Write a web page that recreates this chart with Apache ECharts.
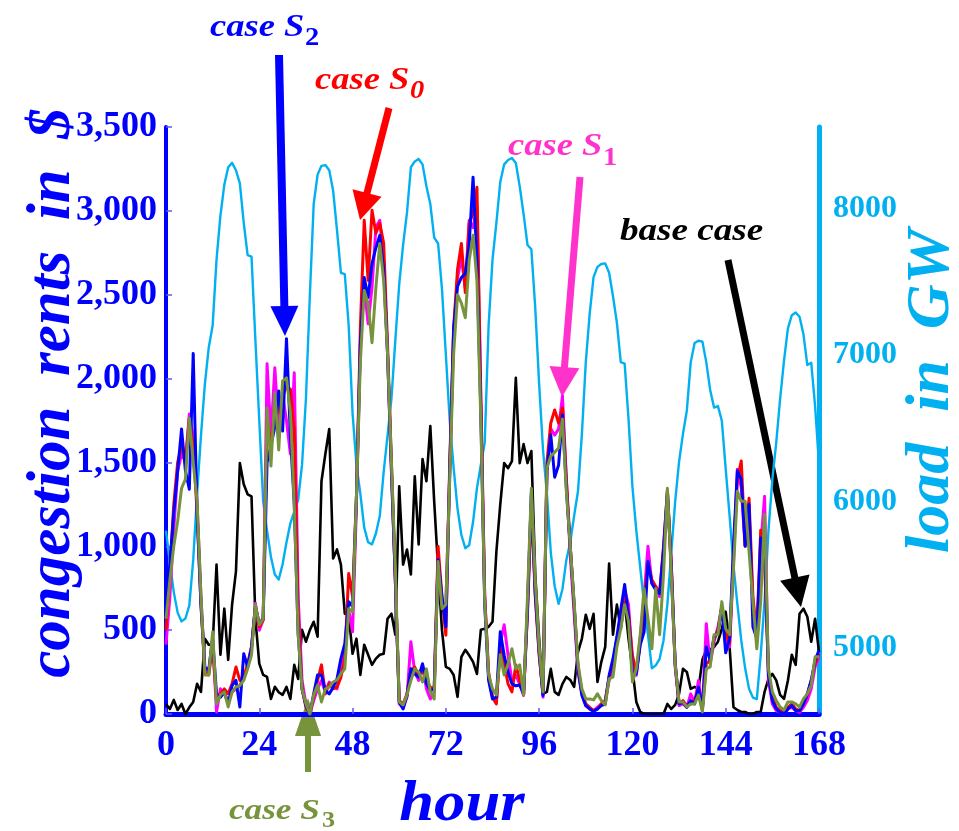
<!DOCTYPE html>
<html>
<head>
<meta charset="utf-8">
<script src="https://cdn.jsdelivr.net/npm/echarts@6/dist/echarts.min.js"></script>
<style>
  html, body { margin: 0; padding: 0; background: #ffffff; }
  #chart { width: 959px; height: 831px; }
</style>
</head>
<body>
<div id="chart"></div>
<script>
// Hour of the week, 0 .. 168
const hours = Array.from({ length: 169 }, (_, i) => i);

const xTicks = [0, 24, 48, 72, 96, 120, 144, 168];
const rentTicks = [0, 500, 1000, 1500, 2000, 2500, 3000, 3500];
const loadTicks = [5000, 6000, 7000, 8000];

// System load (GW), right axis
const loadGW = [
  5800, 5580, 5380, 5240, 5180, 5200, 5290, 5600, 6050, 6450, 6800, 7050,
  7200, 7650, 7950, 8160, 8280, 8310, 8260, 8170, 7900, 7680, 7670, 7100,
  6550, 6000, 5800, 5620, 5500, 5466, 5570, 5720, 5850, 5930, 6010, 6250,
  6700, 7400, 8030, 8230, 8290, 8295, 8260, 8120, 7850, 7560, 7550, 7200,
  6600, 6250, 6050, 5820, 5720, 5706, 5780, 5900, 6200, 6450, 6700, 7100,
  7480, 7750, 7970, 8280, 8320, 8336, 8300, 8150, 8030, 7800, 7760, 7450,
  7000, 6550, 6230, 5950, 5770, 5680, 5700, 5860, 6090, 6250, 6400, 7200,
  7650, 7900, 8180, 8300, 8330, 8343, 8310, 8150, 7960, 7750, 7720, 7320,
  6800, 6350, 6050, 5650, 5420, 5300, 5400, 5600, 5720, 5900, 6070, 6460,
  6950, 7280, 7530, 7600, 7620, 7624, 7560, 7400, 7220, 6950, 6940, 6560,
  6100, 5800, 5550, 5300, 5090, 4860, 4880, 4925, 5050, 5300, 5650, 6000,
  6270, 6460, 6620, 6950, 7080, 7096, 7090, 6950, 6760, 6640, 6650, 6550,
  6220, 5900, 5560, 5300, 5050, 4860, 4720, 4660, 4650, 4950, 5320, 5800,
  6150, 6400, 6700, 6960, 7180, 7270, 7288, 7260, 7140, 6930, 6946, 6650,
  6250
];

// Congestion rents ($), base case
const rentBase = [
  60, 30, 84, 24, 60, 0, 40, 72, 180, 132, 449, 413,
  413, 891, 353, 628, 323, 652, 850, 1496, 1370, 1310, 1298, 568,
  300, 233, 221, 90, 162, 130, 114, 162, 90, 293, 209, 502,
  431, 500, 550, 461, 1388, 1550, 1699, 927, 981, 891, 598, 592,
  359, 449, 233, 413, 353, 293, 330, 353, 359, 568, 598, 473,
  1358, 891, 981, 832, 1418, 1011, 1520, 1388, 1717, 1268, 868, 500,
  281, 269, 233, 102, 341, 383, 350, 311, 239, 502, 508, 520,
  550, 969, 1250, 1496, 1466, 1508, 2004, 1496, 1609, 1496, 1568, 832,
  449, 120, 132, 269, 132, 114, 180, 221, 203, 162, 371, 450,
  592, 508, 598, 191, 311, 400, 897, 473, 652, 508, 670, 450,
  269, 72, 12, 0, 0, 0, 0, 0, 0, 60, 30, 54,
  120, 269, 251, 150, 162, 150, 323, 383, 383, 400, 431, 508,
  610, 400, 40, 24, 12, 12, 0, 0, 12, 12, 132, 209,
  239, 200, 114, 90, 200, 353, 293, 598, 628, 580, 431, 568,
  371
];

// Congestion rents ($), case S0
const rentS0 = [
  500, 850, 1250, 1500, 1600, 1500, 1760, 1600, 1200, 650, 250, 233,
  400, 80, 120, 150, 120, 180, 280, 200, 220, 300, 400, 640,
  520, 560, 1750, 1600, 1850, 1800, 1900, 1950, 1938, 1700, 600, 150,
  40, 0, 100, 200, 293, 120, 180, 150, 160, 220, 330, 838,
  700, 1300, 2300, 2944, 2585, 3003, 2866, 2926, 2806, 2200, 1500, 800,
  80, 60, 120, 260, 280, 230, 260, 200, 160, 150, 1000, 700,
  470, 1500, 2300, 2650, 2806, 2513, 2926, 2985, 3141, 1900, 700, 250,
  100, 60, 400, 300, 180, 132, 293, 200, 120, 600, 1250, 700,
  350, 120, 1500, 1735, 1813, 1735, 1825, 1400, 1000, 650, 280, 130,
  60, 40, 20, 30, 60, 80, 220, 300, 450, 560, 720, 600,
  350, 250, 420, 680, 900, 800, 760, 720, 1000, 1330, 900, 300,
  60, 80, 50, 60, 80, 150, 30, 300, 320, 450, 500, 640,
  480, 420, 950, 1400, 1508, 1005, 1286, 700, 480, 1095, 900, 250,
  100, 40, 20, 10, 40, 60, 30, 20, 60, 120, 200, 300,
  360
];

// Congestion rents ($), case S1
const rentS1 = [
  413, 700, 1100, 1450, 1550, 1508, 1789, 1650, 1250, 700, 250, 260,
  450, 12, 150, 120, 80, 130, 150, 170, 220, 280, 380, 660,
  500, 560, 2088, 1663, 2064, 1687, 1900, 1750, 1550, 2034, 700, 200,
  60, 0, 80, 150, 200, 130, 190, 170, 150, 300, 350, 620,
  490, 1250, 2200, 2550, 2327, 2543, 2902, 2944, 2700, 2150, 1450, 800,
  60, 40, 100, 431, 250, 200, 290, 150, 90, 130, 950, 650,
  650, 1450, 2250, 2600, 2722, 2543, 2944, 2900, 3022, 1850, 700, 220,
  100, 80, 420, 532, 350, 200, 230, 180, 110, 650, 1300, 750,
  380, 100, 1450, 1700, 1663, 1700, 1897, 1400, 950, 600, 250, 120,
  50, 30, 20, 40, 60, 80, 200, 280, 420, 600, 740, 650,
  300, 230, 450, 700, 1000, 780, 760, 700, 950, 1300, 880, 280,
  50, 60, 40, 120, 70, 200, 20, 538, 300, 430, 520, 640,
  450, 400, 900, 1460, 1350, 1000, 1200, 650, 450, 1000, 1298, 200,
  60, 20, 10, 0, 30, 40, 20, 10, 40, 80, 150, 280,
  340
];

// Congestion rents ($), case S2
const rentS2 = [
  600, 900, 1200, 1450, 1700, 1450, 1340, 2150, 1200, 650, 280, 260,
  450, 120, 100, 130, 60, 170, 200, 42, 359, 280, 400, 640,
  540, 570, 1500, 1600, 1711, 1926, 1687, 2238, 1663, 1250, 480, 150,
  50, 0, 120, 233, 233, 140, 120, 160, 210, 330, 420, 670,
  640, 1300, 2200, 2603, 2483, 2686, 2780, 2854, 2650, 2150, 1450, 800,
  70, 30, 110, 270, 240, 220, 300, 180, 140, 150, 920, 700,
  520, 1450, 2300, 2550, 2603, 2626, 2800, 3201, 2700, 1800, 650, 200,
  90, 100, 490, 350, 250, 180, 168, 173, 120, 620, 1320, 720,
  370, 110, 1450, 1663, 1412, 1484, 1783, 1350, 1000, 650, 270, 110,
  50, 30, 15, 30, 50, 60, 230, 330, 460, 620, 772, 580,
  250, 240, 413, 490, 909, 778, 740, 718, 980, 1330, 870, 300,
  60, 70, 40, 80, 60, 160, 30, 400, 320, 460, 480, 640,
  365, 450, 1005, 1450, 1400, 1000, 1250, 520, 450, 1050, 1000, 230,
  80, 30, 10, 0, 30, 50, 20, 20, 60, 120, 200, 320,
  380
];

// Congestion rents ($), case S3
const rentS3 = [
  568, 800, 1000, 1150, 1346, 1400, 1765, 1500, 1268, 700, 233, 233,
  490, 60, 114, 132, 42, 132, 162, 170, 200, 269, 353, 652,
  532, 568, 1825, 1478, 1915, 1574, 1986, 2004, 1801, 1250, 473, 150,
  60, 0, 114, 173, 72, 150, 160, 191, 203, 240, 269, 628,
  610, 1300, 2100, 2525, 2447, 2214, 2543, 2806, 2585, 2148, 1500, 868,
  72, 54, 114, 200, 269, 251, 191, 269, 132, 90, 909, 628,
  652, 1400, 2148, 2500, 2450, 2363, 2704, 2854, 2585, 1747, 670, 233,
  150, 114, 353, 233, 300, 389, 269, 293, 114, 700, 1346, 790,
  400, 132, 1466, 1538, 1560, 1586, 1759, 1328, 1000, 670, 300, 150,
  90, 90, 84, 120, 80, 54, 209, 221, 400, 508, 652, 550,
  191, 269, 473, 748, 568, 389, 748, 473, 832, 1346, 832, 293,
  72, 72, 42, 60, 60, 114, 12, 269, 281, 473, 473, 670,
  508, 473, 868, 1328, 1268, 1268, 969, 670, 389, 670, 1191, 269,
  132, 80, 42, 24, 72, 72, 60, 42, 90, 120, 173, 341,
  341
];

const BLUE = '#0000ff';
const RED = '#ff0000';
const MAGENTA = '#ff00ff';
const PINK = '#ff33cc';
const OLIVE = '#77933c';
const SKY = '#00b0f0';
const SERIF = '"Liberation Serif", "Times New Roman", serif';

const pairs = (vals) => hours.map((h, i) => [h, vals[i]]);

function lineSeries(name, vals, color, width, yAxisIndex) {
  return {
    name, type: 'line', data: pairs(vals), yAxisIndex: yAxisIndex || 0,
    symbol: 'none', smooth: false, sampling: null,
    lineStyle: { color, width, join: 'round' },
    emphasis: { disabled: true }
  };
}

// Left-anchored annotation text, slightly widened like the serif face in use
function txt(text, x, y, size, color, italic, sx) {
  return {
    type: 'text', x, y, silent: true, scaleX: sx || 1.14, scaleY: 1,
    style: {
      text, fill: color, fontFamily: SERIF, fontSize: size,
      fontWeight: 'bold', fontStyle: italic === false ? 'normal' : 'italic',
      textAlign: 'left', textVerticalAlign: 'bottom'
    }
  };
}

function arrow(x1, y1, x2, y2, headLen, headHalf, width, color) {
  const dx = x2 - x1, dy = y2 - y1;
  const len = Math.hypot(dx, dy);
  const ux = dx / len, uy = dy / len;
  const bx = x2 - ux * headLen, by = y2 - uy * headLen;
  const px = -uy, py = ux;
  return [
    { type: 'line', silent: true, shape: { x1, y1, x2: bx + ux * 2, y2: by + uy * 2 },
      style: { stroke: color, lineWidth: width } },
    { type: 'polygon', silent: true,
      shape: { points: [[bx + px * headHalf, by + py * headHalf], [bx - px * headHalf, by - py * headHalf], [x2, y2]] },
      style: { fill: color } }
  ];
}

const graphics = [
  // axis titles
  { type: 'text', x: 53, y: 393, rotation: Math.PI / 2, silent: true,
    style: { text: 'congestion  rents  in  $', fill: BLUE, fontFamily: SERIF, fontSize: 61,
      fontWeight: 'bold', fontStyle: 'italic', textAlign: 'center', textVerticalAlign: 'middle' } },
  { type: 'text', x: 932, y: 391, rotation: Math.PI / 2, silent: true,
    style: { text: 'load  in  GW', fill: SKY, fontFamily: SERIF, fontSize: 62,
      fontWeight: 'bold', fontStyle: 'italic', textAlign: 'center', textVerticalAlign: 'middle' } },
  { type: 'text', x: 462, y: 805, silent: true, scaleX: 1.1,
    style: { text: 'hour', fill: BLUE, fontFamily: SERIF, fontSize: 57,
      fontWeight: 'bold', fontStyle: 'italic', textAlign: 'center', textVerticalAlign: 'middle' } },

  // case labels
  txt('case S', 210, 44, 32, BLUE),
  txt('2', 305, 51, 25, BLUE, false),
  txt('case S', 315, 97, 32, RED),
  txt('0', 410, 104, 25, RED),
  txt('case S', 508, 163, 32, PINK),
  txt('1', 603, 171, 25, PINK, false),
  txt('base case', 620, 248, 32, '#000000', true, 1.16),
  txt('case S', 229, 826, 30, OLIVE, true, 1.17),
  txt('3', 322, 833, 23, OLIVE, false)
]
  .concat(arrow(279, 55, 285, 336, 30, 14, 8, BLUE))
  .concat(arrow(389, 108, 360, 220, 28, 15, 7, RED))
  .concat(arrow(580, 177, 562, 397, 30, 15, 7, PINK))
  .concat(arrow(728, 260, 801, 607, 30, 15, 7, '#000000'))
  .concat(arrow(308, 772, 308, 698, 38, 13, 6, OLIVE));

const chart = echarts.init(document.getElementById('chart'), null, { renderer: 'canvas' });

chart.setOption({
  animation: false,
  backgroundColor: '#ffffff',
  grid: { left: 166, right: 140, top: 127, bottom: 117, containLabel: false },
  xAxis: {
    type: 'value', min: xTicks[0], max: xTicks[xTicks.length - 1], interval: 24,
    axisLine: { show: true, onZero: false, lineStyle: { color: BLUE, width: 5 } },
    axisTick: { show: true, inside: true, length: 6, lineStyle: { color: '#5a5aff', width: 1.5 } },
    axisLabel: {
      color: BLUE, fontFamily: SERIF, fontWeight: 'bold', fontSize: 36, margin: 14,
      customValues: xTicks
    },
    splitLine: { show: false }
  },
  yAxis: [
    {
      type: 'value', position: 'left', min: rentTicks[0], max: rentTicks[rentTicks.length - 1], interval: 500,
      axisLine: { show: true, onZero: false, lineStyle: { color: BLUE, width: 4 } },
      axisTick: { show: true, inside: true, length: 6, lineStyle: { color: '#5a5aff', width: 1.5 } },
      axisLabel: {
        color: BLUE, fontFamily: SERIF, fontWeight: 'bold', fontSize: 36, margin: 9,
        formatter: (v) => v.toLocaleString('en-US')
      },
      splitLine: { show: false }
    },
    {
      type: 'value', position: 'right', min: 4548, max: 8555,
      axisLine: { show: true, onZero: false, lineStyle: { color: SKY, width: 5 } },
      axisTick: { show: false },
      axisLabel: {
        color: SKY, fontFamily: SERIF, fontWeight: 'bold', fontSize: 32, margin: 14,
        customValues: loadTicks,
        formatter: (v) => String(v)
      },
      splitLine: { show: false }
    }
  ],
  series: [
    lineSeries('load', loadGW, SKY, 2.4, 1),
    lineSeries('base case', rentBase, '#000000', 2.6),
    lineSeries('case S1', rentS1, MAGENTA, 3),
    lineSeries('case S0', rentS0, RED, 3),
    lineSeries('case S2', rentS2, BLUE, 3),
    lineSeries('case S3', rentS3, OLIVE, 3)
  ],
  graphic: graphics
});
</script>
</body>
</html>
